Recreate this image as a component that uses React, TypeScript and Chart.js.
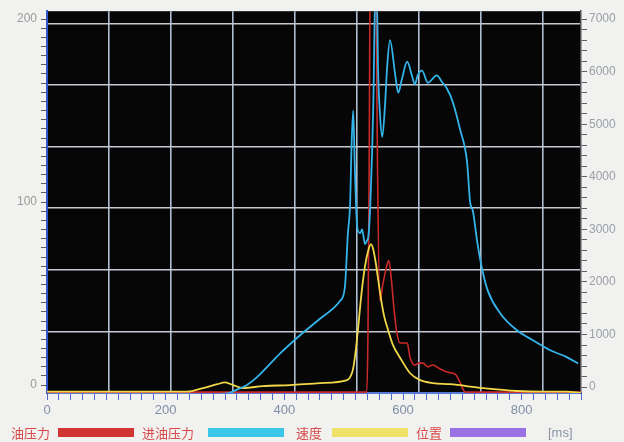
import React, { useEffect, useRef } from "react";
import { Chart, registerables } from "chart.js";
Chart.register(...registerables);

// 进油压力 (right axis)
const inletPressureTime = [0, 290, 308, 322, 337, 354, 393, 426, 460, 494, 502, 507, 511, 513, 516, 519, 523, 528, 531, 536, 539, 542, 545, 548, 550, 553, 556, 558, 561, 565, 570, 573, 578, 587, 592, 598, 607, 615, 620, 625, 632, 642, 657, 666, 674, 684, 696, 708, 713, 718, 725, 733, 743, 764, 792, 819, 848, 876, 895];
const inletPressure = [-130, -130, -110, -40, 40, 190, 640, 980, 1300, 1640, 1890, 2900, 3530, 4470, 5260, 4100, 3020, 2930, 3000, 2720, 2780, 2900, 3500, 4500, 5400, 7300, 7400, 6040, 5230, 4760, 5420, 6040, 6600, 5930, 5600, 5850, 6190, 5930, 5760, 5940, 6020, 5790, 5930, 5800, 5680, 5420, 4910, 4280, 3530, 3340, 2770, 2260, 1830, 1400, 1080, 890, 700, 570, 450];

// 油压力 (left axis)
const oilPressureTime = [0, 539, 541, 543, 545, 552, 555, 557, 561, 566, 571, 576, 580, 585, 590, 595, 600, 607, 612, 620, 627, 634, 642, 650, 662, 676, 688, 696, 705, 900];
const oilPressure = [-3.8, -3.8, 30, 120, 240, 240, 200, 120, 46, 55, 63, 68, 59, 41, 28, 23, 23, 23, 15, 11, 12, 12, 10, 11, 9, 7, 6, 1.6, -3.8, -3.8];

// 速度 (left axis)
const speedTime = [0, 236, 263, 287, 300, 314, 330, 364, 410, 460, 506, 512, 516, 520, 524, 530, 536, 541, 546, 550, 554, 558, 563, 568, 575, 583, 595, 612, 629, 651, 679, 735, 792, 836, 876, 900];
const speed = [-3.6, -3.6, -1.6, 0.5, 1.5, 0, -1.6, -0.5, 0, 1.1, 2.7, 5, 9, 18, 30, 50, 65, 73, 77, 74, 67, 58, 47, 38, 30, 22, 15, 6.5, 2.7, 1.1, 0.5, -1.6, -3.2, -3.6, -3.6, -4.2];

// 位置 (no visible trace)
const positionTime: number[] = [];
const position: number[] = [];

const xTickValues = Array.from({ length: 46 }, (_, i) => i * 20);
const xLabelValues = [0, 200, 400, 600, 800];
const leftTickValues = Array.from({ length: 41 }, (_, i) => i * 5);
const leftLabelValues = [0, 100, 200];
const rightTickValues = Array.from({ length: 36 }, (_, i) => i * 200);
const rightLabelValues = [0, 1000, 2000, 3000, 4000, 5000, 6000, 7000];
const gridXLines = [1, 2, 3, 4, 5, 6, 7, 8];
const gridYLines = [1, 2, 3, 4, 5, 6];

const legendLabels = ["油压力", "进油压力", "速度", "位置"];
const legendColors = ["#d23434", "#3cc6ea", "#efe068", "#9a72e6"];

const zip = (t: number[], v: number[]) => t.map((x, i) => ({ x, y: v[i] }));

export default function App() {
  const ref = useRef<HTMLCanvasElement | null>(null);
  useEffect(() => {
    if (!ref.current) return;
    const bgPlugin = {
      id: "plotBg",
      beforeDraw(chart: any) {
        const { ctx, chartArea: a } = chart;
        ctx.save();
        ctx.fillStyle = "#060607";
        ctx.fillRect(a.left, a.top, a.right - a.left, a.bottom - a.top);
        ctx.restore();
      },
    };
    const font = { family: "'Liberation Sans', Arial, sans-serif", size: 12 };
    const chart = new Chart(ref.current, {
      type: "line",
      data: {
        datasets: [
          {
            label: "进油压力",
            data: zip(inletPressureTime, inletPressure),
            borderColor: "#34b4ea",
            borderWidth: 1.8,
            pointRadius: 0,
            cubicInterpolationMode: "monotone",
            xAxisID: "x",
            yAxisID: "y1",
            order: 1,
          },
          {
            label: "速度",
            data: zip(speedTime, speed),
            borderColor: "#f0d848",
            borderWidth: 1.8,
            pointRadius: 0,
            cubicInterpolationMode: "monotone",
            xAxisID: "x",
            yAxisID: "y",
            order: 2,
          },
          {
            label: "油压力",
            data: zip(oilPressureTime, oilPressure),
            borderColor: "#cc2a2a",
            borderWidth: 1.6,
            pointRadius: 0,
            cubicInterpolationMode: "monotone",
            xAxisID: "x",
            yAxisID: "y",
            order: 3,
          },
          {
            label: "位置",
            data: zip(positionTime, position),
            borderColor: "#9a72e6",
            borderWidth: 1.6,
            pointRadius: 0,
            xAxisID: "x",
            yAxisID: "y",
            order: 4,
          },
        ],
      },
      options: {
        animation: false,
        responsive: false,
        layout: { padding: { top: 8, bottom: 19, left: 0, right: 0 } },
        plugins: { legend: { display: false }, tooltip: { enabled: false } },
        scales: {
          x: {
            type: "linear",
            position: "bottom",
            min: 0,
            max: 900,
            afterFit: (s: any) => { s.height = 30; },
            afterBuildTicks: (s: any) => { s.ticks = xTickValues.map((value) => ({ value })); },
            ticks: {
              autoSkip: false,
              maxRotation: 0,
              padding: 3,
              color: "#7f8ea6",
              font: { ...font, size: 13 },
              callback: (v: any) => (xLabelValues.includes(Number(v)) ? String(v) : ""),
            },
            grid: { drawOnChartArea: false, drawTicks: true, tickLength: 7, color: "#4a68cc" },
            border: { display: true, color: "#5a78d8", width: 2 },
          },
          y: {
            type: "linear",
            position: "left",
            min: -4.3,
            max: 204.3,
            afterFit: (s: any) => { s.width = 47; },
            afterBuildTicks: (s: any) => { s.ticks = leftTickValues.map((value) => ({ value })); },
            ticks: {
              autoSkip: false,
              padding: 4,
              color: "#9a9a9a",
              font,
              callback: (v: any) => (leftLabelValues.includes(Number(v)) ? String(v) : ""),
            },
            grid: { drawOnChartArea: false, drawTicks: true, tickLength: 6, color: "#5a5a60" },
            border: { display: true, color: "#3556c8", width: 2 },
          },
          y1: {
            type: "linear",
            position: "right",
            min: -113,
            max: 7151,
            afterFit: (s: any) => { s.width = 43; },
            afterBuildTicks: (s: any) => { s.ticks = rightTickValues.map((value) => ({ value })); },
            ticks: {
              autoSkip: false,
              padding: 2,
              color: "#9aa0a8",
              font,
              callback: (v: any) => (rightLabelValues.includes(Number(v)) ? String(v) : ""),
            },
            grid: { drawOnChartArea: false, drawTicks: true, tickLength: 6, color: "#606068" },
            border: { display: true, color: "#505058", width: 1.5 },
          },
          gx: {
            type: "linear",
            position: "bottom",
            min: 0,
            max: 8.61,
            afterFit: (s: any) => { s.height = 0; },
            afterBuildTicks: (s: any) => { s.ticks = gridXLines.map((value) => ({ value })); },
            ticks: { display: false },
            grid: { drawTicks: false, color: "#aebfd2", lineWidth: 1.6 },
            border: { display: false },
          },
          gy: {
            type: "linear",
            position: "left",
            min: 0,
            max: 6.2,
            afterFit: (s: any) => { s.width = 0; },
            afterBuildTicks: (s: any) => { s.ticks = gridYLines.map((value) => ({ value })); },
            ticks: { display: false },
            grid: { drawTicks: false, color: "#c4cad2", lineWidth: 1.6 },
            border: { display: false },
          },
        },
      } as any,
      plugins: [bgPlugin],
    });
    return () => chart.destroy();
  }, []);

  const swatchLefts = [58, 208, 332, 450];
  const textLefts = [11, 142, 296, 416];
  return (
    <div style={{ position: "absolute", left: 0, top: 0, width: 624, height: 442, background: "#f1f1ef", overflow: "hidden" }}>
      <canvas ref={ref} width={624} height={442} style={{ display: "block" }} />
      {legendLabels.map((lab, i) => (
        <React.Fragment key={lab}>
          <span
            style={{
              position: "absolute",
              left: textLefts[i],
              top: 424,
              fontFamily: "'Noto Sans CJK SC', sans-serif",
              fontSize: 13,
              lineHeight: "18px",
              color: "#d84a4a",
              whiteSpace: "nowrap",
            }}
          >
            {lab}
          </span>
          <span
            style={{
              position: "absolute",
              left: swatchLefts[i],
              top: 428,
              width: 76,
              height: 9,
              background: legendColors[i],
            }}
          />
        </React.Fragment>
      ))}
      <span
        style={{
          position: "absolute",
          left: 548,
          top: 424,
          fontFamily: "'Liberation Sans', Arial, sans-serif",
          fontSize: 13,
          lineHeight: "18px",
          color: "#8a94a6",
        }}
      >
        [ms]
      </span>
    </div>
  );
}
